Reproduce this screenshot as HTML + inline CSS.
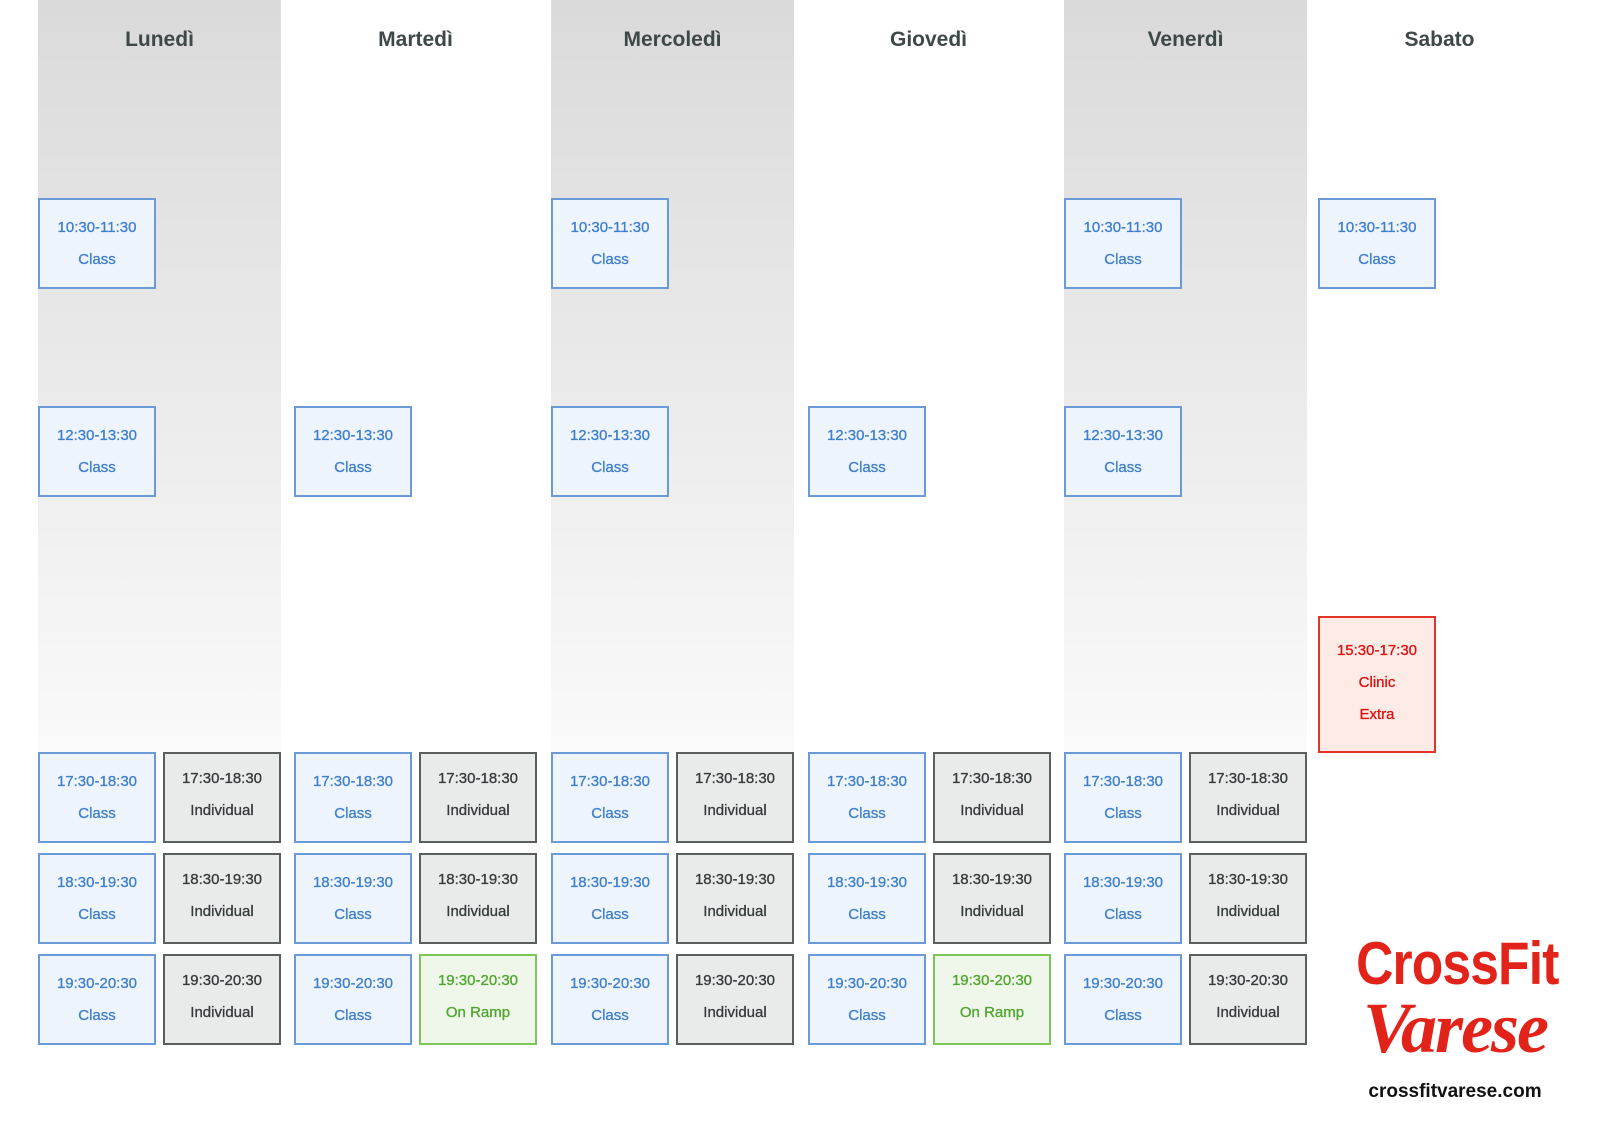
<!DOCTYPE html>
<html><head><meta charset="utf-8"><style>
*{margin:0;padding:0;box-sizing:border-box}
body{width:1600px;height:1128px;background:#fff;position:relative;overflow:hidden;font-family:"Liberation Sans","DejaVu Sans",sans-serif}
.col{position:absolute;top:0;width:243px;height:752px;background:linear-gradient(#dadada,#fafafa)}
.h{position:absolute;top:28px;width:243px;text-align:center;font-size:21px;font-weight:bold;color:#3f4848}
.b{position:absolute;width:118px;height:91px;border:2px solid #6b9bd6;background:#eef4fc;color:#3e7fcc;font-size:15px;text-align:center;display:flex;flex-direction:column;justify-content:center;line-height:32px;-webkit-text-stroke:0.3px}
.g{border-color:#5a5e5e;background:#e9eaea;color:#333a3a;padding-bottom:5px}
.gr{border-color:#7cc55a;background:#eff6ea;color:#4fa62c;padding-bottom:5px}
.r{border-color:#e3342a;background:#fdebe6;color:#e01010;padding-bottom:4px}
</style></head><body>
<div class="col" style="left:38px"></div>
<div class="col" style="left:551px"></div>
<div class="col" style="left:1064px"></div>
<div class="h" style="left:38px">Lunedì</div>
<div class="h" style="left:294px">Martedì</div>
<div class="h" style="left:551px">Mercoledì</div>
<div class="h" style="left:807px">Giovedì</div>
<div class="h" style="left:1064px">Venerdì</div>
<div class="h" style="left:1318px">Sabato</div>

<div class="b" style="left:38px;top:198px">10:30-11:30<br>Class</div>
<div class="b" style="left:551px;top:198px">10:30-11:30<br>Class</div>
<div class="b" style="left:1064px;top:198px">10:30-11:30<br>Class</div>
<div class="b" style="left:1318px;top:198px">10:30-11:30<br>Class</div>

<div class="b" style="left:38px;top:406px">12:30-13:30<br>Class</div>
<div class="b" style="left:294px;top:406px">12:30-13:30<br>Class</div>
<div class="b" style="left:551px;top:406px">12:30-13:30<br>Class</div>
<div class="b" style="left:808px;top:406px">12:30-13:30<br>Class</div>
<div class="b" style="left:1064px;top:406px">12:30-13:30<br>Class</div>

<div class="b r" style="left:1318px;top:616px;height:137px">15:30-17:30<br>Clinic<br>Extra</div>

<div class="b" style="left:38px;top:752px">17:30-18:30<br>Class</div>
<div class="b g" style="left:163px;top:752px">17:30-18:30<br>Individual</div>
<div class="b" style="left:294px;top:752px">17:30-18:30<br>Class</div>
<div class="b g" style="left:419px;top:752px">17:30-18:30<br>Individual</div>
<div class="b" style="left:551px;top:752px">17:30-18:30<br>Class</div>
<div class="b g" style="left:676px;top:752px">17:30-18:30<br>Individual</div>
<div class="b" style="left:808px;top:752px">17:30-18:30<br>Class</div>
<div class="b g" style="left:933px;top:752px">17:30-18:30<br>Individual</div>
<div class="b" style="left:1064px;top:752px">17:30-18:30<br>Class</div>
<div class="b g" style="left:1189px;top:752px">17:30-18:30<br>Individual</div>

<div class="b" style="left:38px;top:853px">18:30-19:30<br>Class</div>
<div class="b g" style="left:163px;top:853px">18:30-19:30<br>Individual</div>
<div class="b" style="left:294px;top:853px">18:30-19:30<br>Class</div>
<div class="b g" style="left:419px;top:853px">18:30-19:30<br>Individual</div>
<div class="b" style="left:551px;top:853px">18:30-19:30<br>Class</div>
<div class="b g" style="left:676px;top:853px">18:30-19:30<br>Individual</div>
<div class="b" style="left:808px;top:853px">18:30-19:30<br>Class</div>
<div class="b g" style="left:933px;top:853px">18:30-19:30<br>Individual</div>
<div class="b" style="left:1064px;top:853px">18:30-19:30<br>Class</div>
<div class="b g" style="left:1189px;top:853px">18:30-19:30<br>Individual</div>

<div class="b" style="left:38px;top:954px">19:30-20:30<br>Class</div>
<div class="b g" style="left:163px;top:954px">19:30-20:30<br>Individual</div>
<div class="b" style="left:294px;top:954px">19:30-20:30<br>Class</div>
<div class="b gr" style="left:419px;top:954px">19:30-20:30<br>On Ramp</div>
<div class="b" style="left:551px;top:954px">19:30-20:30<br>Class</div>
<div class="b g" style="left:676px;top:954px">19:30-20:30<br>Individual</div>
<div class="b" style="left:808px;top:954px">19:30-20:30<br>Class</div>
<div class="b gr" style="left:933px;top:954px">19:30-20:30<br>On Ramp</div>
<div class="b" style="left:1064px;top:954px">19:30-20:30<br>Class</div>
<div class="b g" style="left:1189px;top:954px">19:30-20:30<br>Individual</div>

<div style="position:absolute;left:1340px;top:934px;width:230px;text-align:center;color:#e2231a;font-weight:bold;font-size:60px;line-height:60px;letter-spacing:-1px;transform:scaleX(0.86);transform-origin:center">CrossFit</div>
<div style="position:absolute;left:1345px;top:990px;width:220px;text-align:center;color:#e2231a;font-weight:bold;font-style:italic;font-size:72px;line-height:76px;font-family:'Liberation Serif',serif;letter-spacing:-2px">Varese</div>
<div style="position:absolute;left:1355px;top:1081px;width:200px;text-align:center;color:#111;font-weight:bold;font-size:19px">crossfitvarese.com</div>
</body></html>
